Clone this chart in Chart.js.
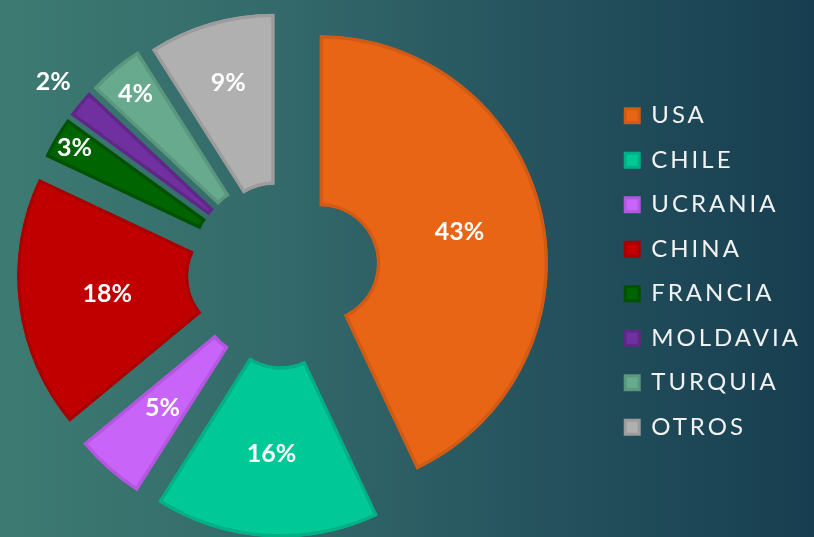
<!DOCTYPE html>
<html>
<head>
<meta charset="utf-8">
<script src="https://cdn.jsdelivr.net/npm/chart.js@4.4.1/dist/chart.umd.min.js"></script>
<style>
  html, body { margin: 0; padding: 0; }
  body {
    width: 814px; height: 537px; overflow: hidden;
    background: linear-gradient(90deg, #3d7b72 0%, #33696a 35%, #24515d 68%, #173e50 100%);
  }
  /* el lienzo sobresale por la izquierda para que la tarta quede centrada como en el original */
  #pie { display: block; margin-left: -39px; }
</style>
</head>
<body>
<canvas id="pie" width="853" height="537"></canvas>
<script>
// datos
const paises = ['USA', 'CHILE', 'UCRANIA', 'CHINA', 'FRANCIA', 'MOLDAVIA', 'TURQUIA', 'OTROS'];
const cuota = [43, 16, 5, 18, 3, 2, 4, 9];

// estilo de cada porcion
const colores = ['#e86515', '#00c896', '#c864f8', '#c00000', '#006400', '#7030a0', '#68aa8e', '#b0b0b0'];
const bordes = ['#d25a14', '#00b085', '#b456e0', '#a80000', '#005200', '#5f2888', '#5b977d', '#9c9c9c'];
const separacion = [38, 38, 36, 38, 36, 36, 36, 31];     // explosion de cada porcion, px
const distEtiqueta = [143, 145, 146, 139, 206, 262, 195, 165];

// separa cada porcion de su centro, a lo largo de su bisectriz
const explotar = {
  id: 'explotar',
  afterUpdate(chart) {
    chart.getDatasetMeta(0).data.forEach((arc, i) => {
      const mid = (arc.startAngle + arc.endAngle) / 2;
      arc.x += Math.cos(mid) * separacion[i];
      arc.y += Math.sin(mid) * separacion[i];
    });
  }
};

// espaciado de letras de la leyenda
const espaciado = {
  id: 'espaciado',
  beforeLayout(chart) { chart.ctx.letterSpacing = '3px'; },
  beforeDraw(chart) { chart.ctx.letterSpacing = '3px'; }
};

// porcentajes
const porcentajes = {
  id: 'porcentajes',
  afterDatasetsDraw(chart) {
    const ctx = chart.ctx;
    ctx.save();
    ctx.letterSpacing = '0px';
    ctx.font = 'bold 25px Lato';
    ctx.fillStyle = '#ffffff';
    ctx.textAlign = 'center';
    ctx.textBaseline = 'middle';
    chart.getDatasetMeta(0).data.forEach((arc, i) => {
      const mid = (arc.startAngle + arc.endAngle) / 2;
      ctx.fillText(cuota[i] + '%', arc.x + Math.cos(mid) * distEtiqueta[i], arc.y + Math.sin(mid) * distEtiqueta[i]);
    });
    ctx.restore();
  }
};

const chart = new Chart(document.getElementById('pie'), {
  type: 'doughnut',
  data: {
    labels: paises,
    datasets: [{
      data: cuota,
      backgroundColor: colores,
      borderColor: bordes,
      borderWidth: 3,
      borderAlign: 'inner'
    }]
  },
  options: {
    responsive: false,
    animation: false,
    events: [],
    radius: 228,
    cutout: '25%',
    layout: { padding: { left: 0, right: 3, top: 6, bottom: 0 } },
    plugins: {
      legend: {
        position: 'right',
        labels: {
          color: '#f2f2f2',
          font: { family: 'Lato', size: 24 },
          boxWidth: 14,
          boxHeight: 14,
          padding: 20.5
        }
      },
      tooltip: { enabled: false }
    }
  },
  plugins: [explotar, espaciado, porcentajes]
});
</script>
</body>
</html>
